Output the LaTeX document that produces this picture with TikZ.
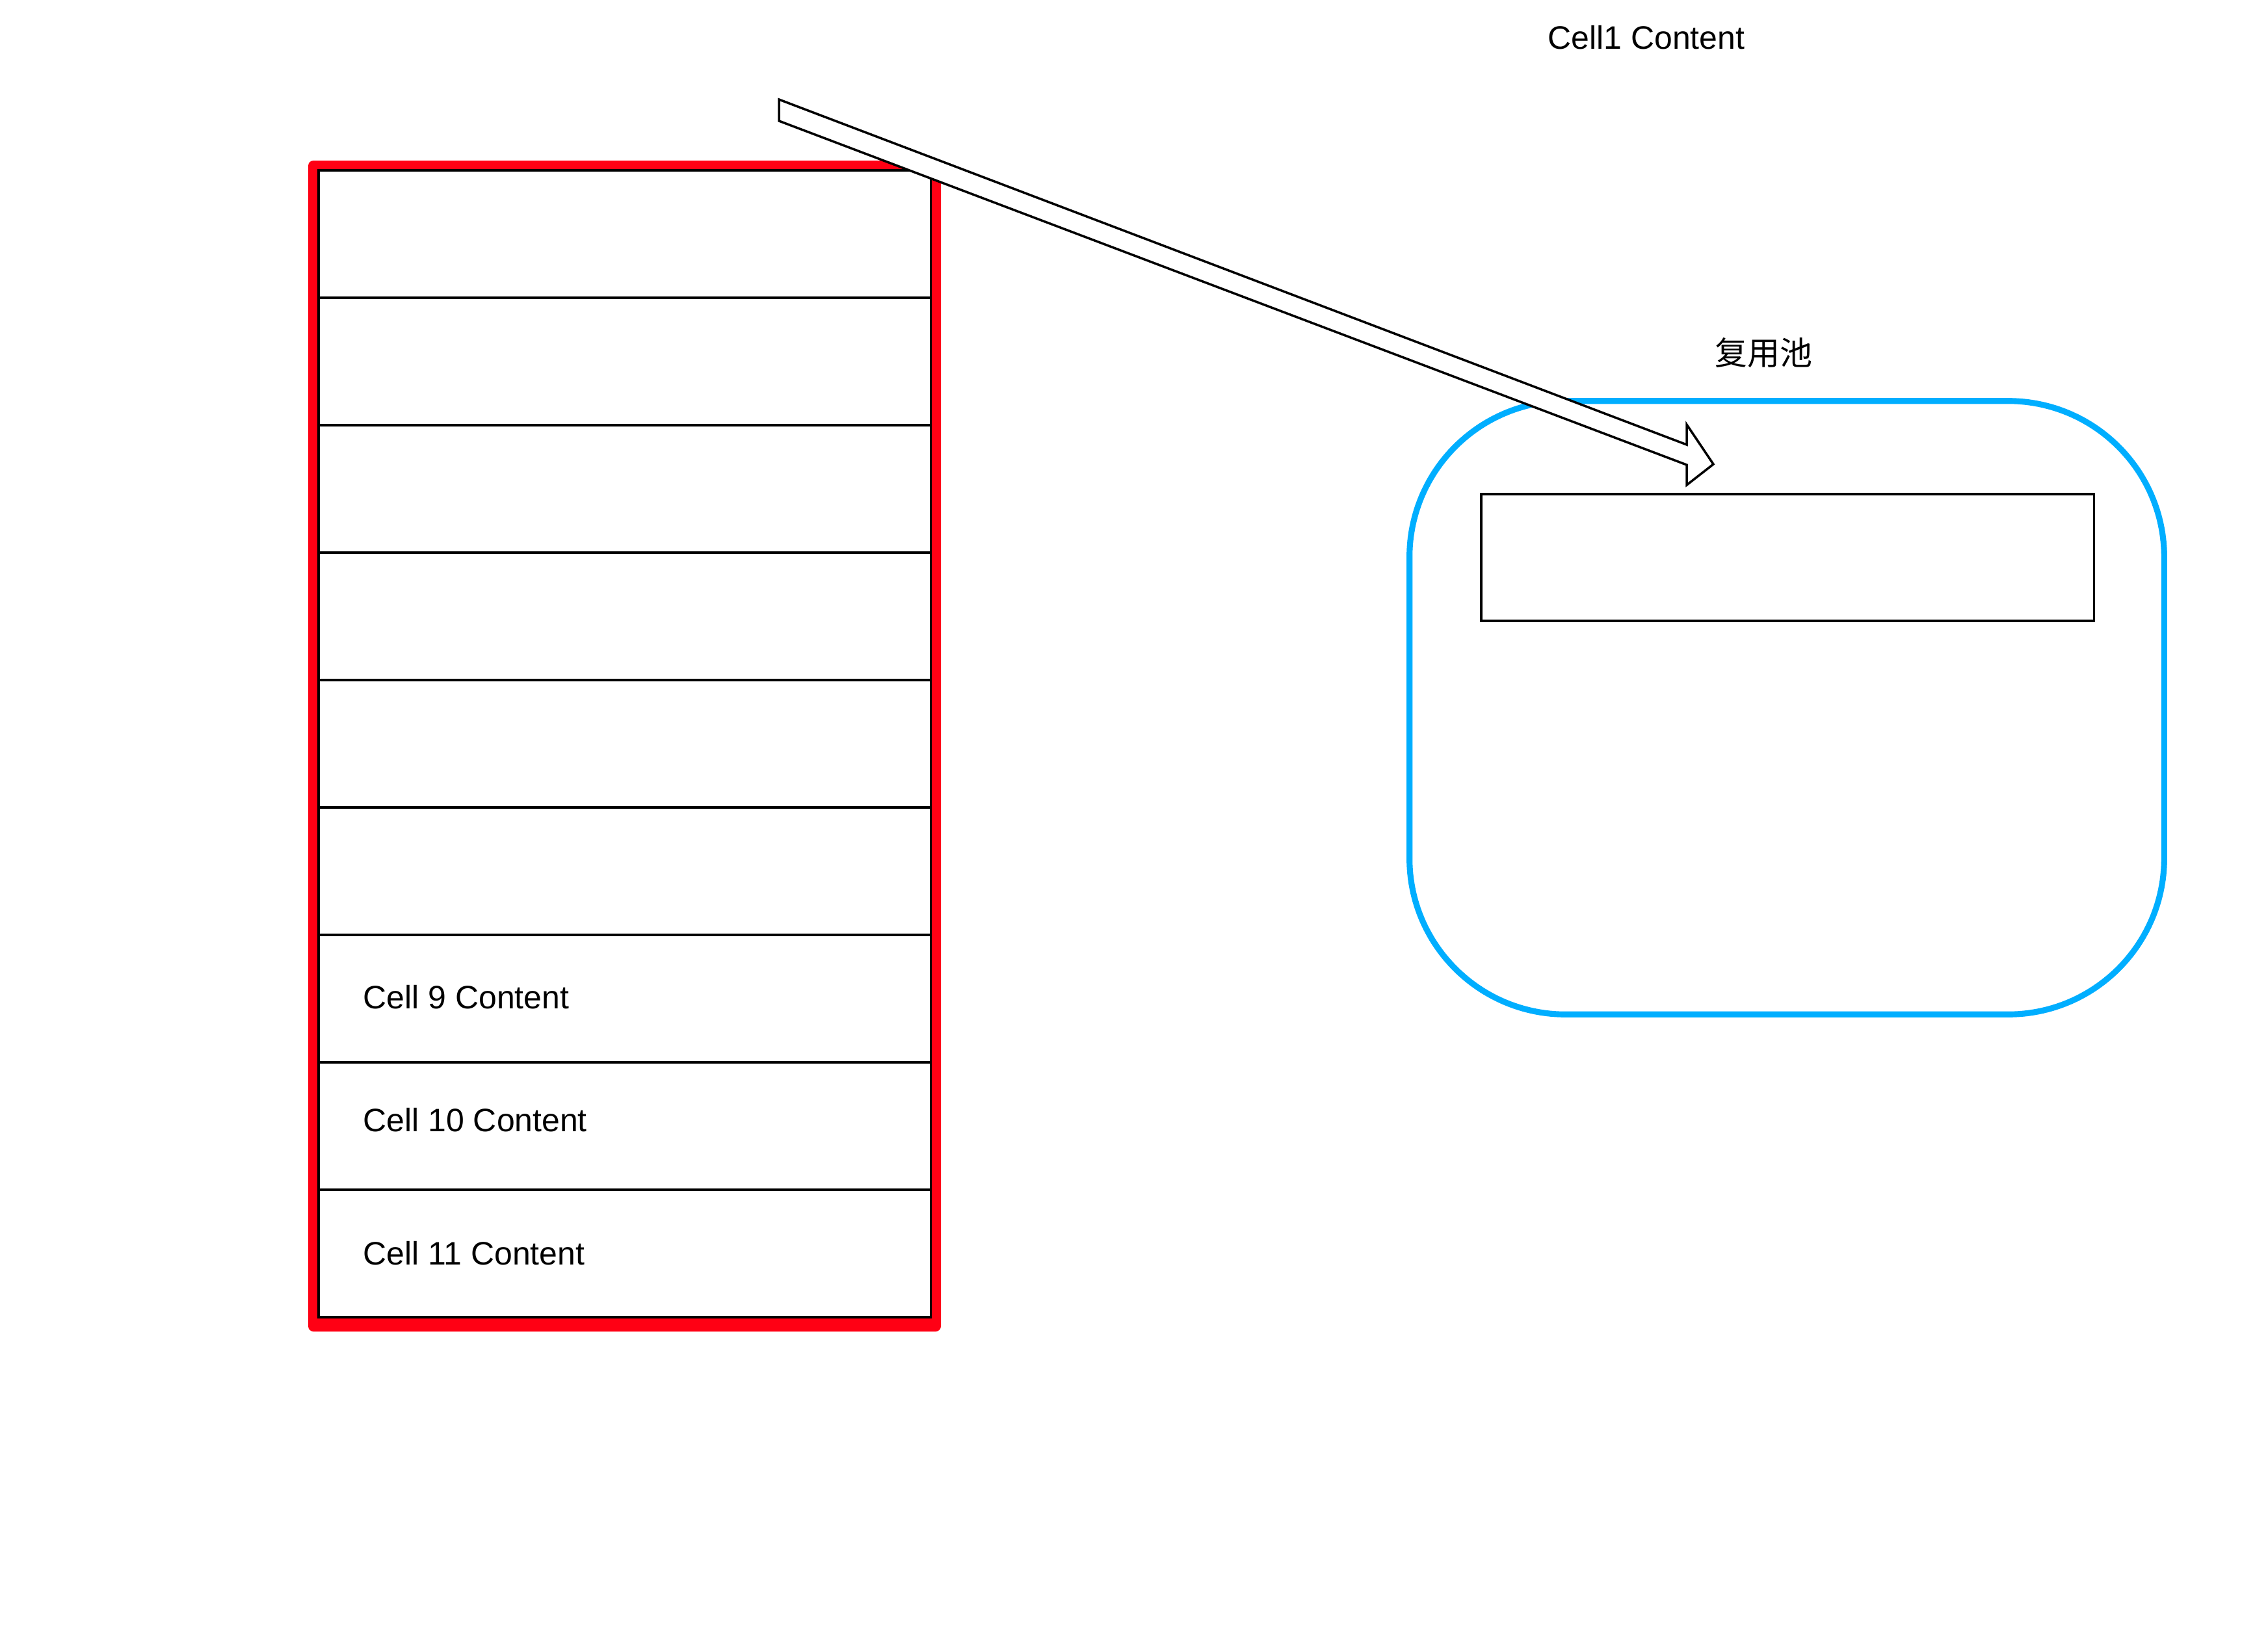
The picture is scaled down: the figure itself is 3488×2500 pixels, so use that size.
\documentclass[tikz,border=0pt]{standalone}
\usepackage{fontspec}
\setmainfont{Liberation Sans}
\newfontfamily\cjkfont{Noto Sans CJK SC}
\begin{document}
\begin{tikzpicture}[x=0.01cm,y=-0.01cm,
  cellbox/.style={draw=black,fill=white,line width=1pt,minimum width=9.41cm,minimum height=1.96cm,inner sep=0pt,outer sep=0pt,anchor=north west},
  celltext/.style={anchor=west,inner sep=0pt,font=\fontsize{14.2}{17}\selectfont},
  plaintext/.style={inner sep=0pt,font=\fontsize{14.2}{17}\selectfont}
]
\definecolor{redframe}{RGB}{255,0,20}
\definecolor{poolblue}{RGB}{0,174,255}
\useasboundingbox (0,0) rectangle (3488,2500);
% red frame
\fill[redframe,rounded corners=0.08cm] (474,247) rectangle (1447,2048);
% table cells
\foreach \i in {1,...,9}{
  \node[cellbox] (cell\i) at (490,{262+196*(\i-1)}) {};
}
\node[celltext] (t9) at ([xshift=0.68cm,yshift=0.02cm]cell7.west) {Cell 9 Content};
\node[celltext] (t10) at ([xshift=0.68cm,yshift=0.09cm]cell8.west) {Cell 10 Content};
\node[celltext] (t11) at ([xshift=0.68cm]cell9.west) {Cell 11 Content};
% reuse pool
\node[draw=poolblue,line width=2.6pt,rounded corners=2.4cm,minimum width=11.6cm,minimum height=9.43cm,inner sep=0pt] (pool) at (2748,1088.5) {};
\node[draw=black,line width=1pt,fill=white,minimum width=9.42cm,minimum height=1.95cm,inner sep=0pt] (poolcell) at (2749,857.5) {};
\node[plaintext] (pooltitle) at (2712,543) {\cjkfont 复用池};
\node[plaintext] (cell1) at (2532,58) {Cell1 Content};
% block arrow
\coordinate (a1) at (1198,153);
\coordinate (a2) at (2594,684);
\coordinate (a3) at (2594,653);
\coordinate (a4) at (2635,714);
\coordinate (a5) at (2594,746);
\coordinate (a6) at (2594,715);
\coordinate (a7) at (1198,186);
\draw[line width=1pt,fill=white,line join=miter] (a1) -- (a2) -- (a3) -- (a4) -- (a5) -- (a6) -- (a7) -- cycle;
\end{tikzpicture}
\end{document}
